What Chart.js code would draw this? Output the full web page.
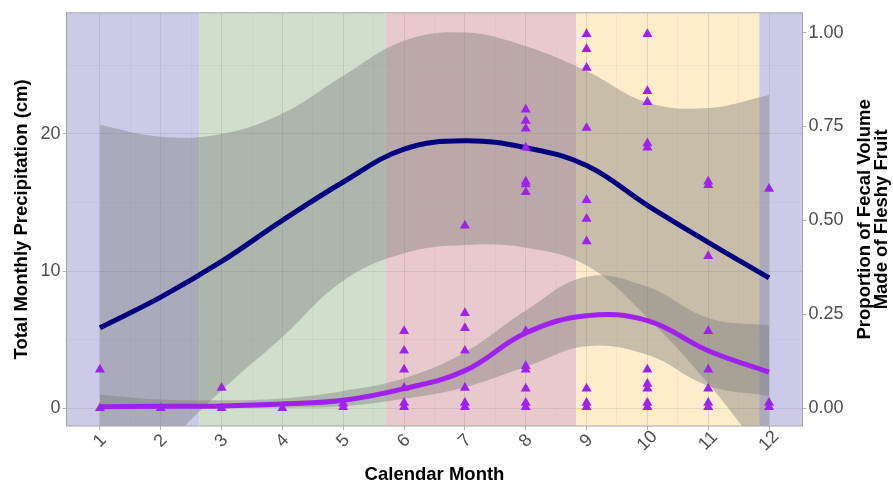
<!DOCTYPE html>
<html>
<head>
<meta charset="utf-8">
<script src="https://cdn.jsdelivr.net/npm/chart.js@4.4.0/dist/chart.umd.min.js"></script>
<style>
  body { margin: 0; background: #fff; }
</style>
</head>
<body>
<canvas id="chart" width="893" height="484"></canvas>
<script>
// months on the x axis
const months = [1, 2, 3, 4, 5, 6, 7, 8, 9, 10, 11, 12];
const xTickLabels = ['1', '2', '3', '4', '5', '6', '7', '8', '9', '10', '11', '12'];

// season boundaries (in months) and the band colours between them
const seasonBreaks = [2.63, 5.7, 8.83, 11.84];
const seasonColors = ['#cbcbe8', '#cfdfcc', '#e8cacc', '#feecca', '#cbcbe8'];

// precipitation smooth (cm) + ribbon
const precipFit = [5.87, 8.1, 10.7, 13.7, 16.5, 18.9, 19.5, 19.0, 17.7, 14.8, 12.1, 9.5];
const precipUpper = [20.65, 19.8, 20.0, 21.5, 24.25, 26.8, 27.4, 26.4, 24.6, 22.3, 21.9, 22.85];
const precipLower = [-8.9, -3.2, 1.3, 5.2, 9.3, 11.3, 11.9, 11.7, 10.4, 6.6, 1.8, -3.9];

// fleshy fruit proportion smooth + ribbon
const fruitFit = [0.004, 0.005, 0.006, 0.011, 0.021, 0.052, 0.10, 0.20, 0.246, 0.233, 0.153, 0.096];
const fruitUpper = [0.036, 0.023, 0.021, 0.026, 0.046, 0.08, 0.149, 0.26, 0.35, 0.323, 0.24, 0.22];
const fruitLower = [-0.001, -0.002, 0.0, 0.001, 0.005, 0.025, 0.056, 0.11, 0.165, 0.142, 0.06, 0.033];

// observed proportions, one list per month
const fruitObs = [
    [0, 0.103],
    [0],
    [0, 0.054],
    [0],
    [0.003, 0.012],
    [0.205, 0.153, 0.103, 0.054, 0.014, 0.003],
    [0.486, 0.253, 0.213, 0.153, 0.054, 0.014, 0.003],
    [0.795, 0.765, 0.744, 0.694, 0.603, 0.596, 0.575, 0.205, 0.112, 0.103, 0.052, 0.014, 0.003],
    [0.996, 0.956, 0.906, 0.746, 0.554, 0.504, 0.444, 0.052, 0.014, 0.003],
    [0.996, 0.844, 0.815, 0.705, 0.694, 0.103, 0.065, 0.052, 0.014, 0.003],
    [0.603, 0.594, 0.405, 0.205, 0.103, 0.052, 0.014, 0.003],
    [0.584, 0.014, 0.003]
];

const leftGrid = [0, 5, 10, 15, 20, 25];
const leftTicks = [0, 10, 20];
const rightTicks = [0, 0.25, 0.5, 0.75, 1];
const rightTickLabels = ['0.00', '0.25', '0.50', '0.75', '1.00'];
const secScale = 27.4; // precipitation units per proportion unit

const FONT = "'Liberation Sans', Arial, sans-serif";
const ribbonFill = 'rgba(120, 120, 120, 0.4)';
const gridMajor = 'rgba(130, 130, 130, 0.22)';
const gridMinor = 'rgba(130, 130, 130, 0.13)';
const tickGrey = '#b3b3b3';

function toPoints(values) {
    return months.map((m, i) => ({ x: m, y: values[i] }));
}

let obsPoints = [];
fruitObs.forEach((vals, i) => {
    vals.forEach(v => obsPoints.push({ x: months[i], y: v }));
});

function bandDataset(values, axis, fill) {
    return {
        data: toPoints(values), yAxisID: axis, fill: fill,
        backgroundColor: ribbonFill, borderWidth: 0, pointRadius: 0,
        tension: 0.4, order: 5
    };
}

const seasonBands = {
    id: 'seasonBands',
    beforeDraw(chart) {
        const { ctx, chartArea, scales: { x } } = chart;
        const edges = [x.min, ...seasonBreaks, x.max];
        ctx.save();
        for (let i = 0; i < seasonColors.length; i++) {
            const x0 = x.getPixelForValue(edges[i]);
            const x1 = x.getPixelForValue(edges[i + 1]);
            ctx.fillStyle = seasonColors[i];
            ctx.fillRect(x0, chartArea.top, x1 - x0, chartArea.bottom - chartArea.top);
        }
        ctx.restore();
    }
};

const decorations = {
    id: 'decorations',
    afterDraw(chart) {
        const { ctx, chartArea, scales: { x } } = chart;
        ctx.save();
        // panel border
        ctx.strokeStyle = '#a6a6a6';
        ctx.lineWidth = 1;
        ctx.strokeRect(chartArea.left, chartArea.top, chartArea.right - chartArea.left, chartArea.bottom - chartArea.top);

        // rotated month labels, centred on their ticks
        ctx.fillStyle = '#4d4d4d';
        ctx.font = '18px ' + FONT;
        ctx.textAlign = 'center';
        ctx.textBaseline = 'middle';
        months.forEach((m, i) => {
            ctx.save();
            ctx.translate(x.getPixelForValue(m), chartArea.bottom + 15);
            ctx.rotate(-Math.PI / 4);
            ctx.fillText(xTickLabels[i], 0, 0);
            ctx.restore();
        });

        // right axis title, reading bottom to top
        ctx.fillStyle = '#000';
        ctx.font = 'bold 18.5px ' + FONT;
        const cy = (chartArea.top + chartArea.bottom) / 2;
        ctx.translate(873.5, cy);
        ctx.rotate(-Math.PI / 2);
        ctx.fillText('Proportion of Fecal Volume', 0, -8.5);
        ctx.fillText('Made of Fleshy Fruit', 0, 8.5);
        ctx.restore();
    }
};

new Chart(document.getElementById('chart'), {
    type: 'line',
    data: {
        datasets: [
            { type: 'scatter', data: obsPoints, yAxisID: 'y2', pointStyle: 'triangle', pointRadius: 5.8,
              pointBorderWidth: 0, backgroundColor: '#a020f0', borderColor: '#a020f0', order: 0 },
            { data: toPoints(fruitFit), yAxisID: 'y2', borderColor: '#a020f0', borderWidth: 5,
              pointRadius: 0, tension: 0.4, fill: false, order: 1 },
            { data: toPoints(precipFit), yAxisID: 'y', borderColor: '#000080', borderWidth: 5,
              pointRadius: 0, tension: 0.4, fill: false, order: 2 },
            bandDataset(precipUpper, 'y', '+1'),
            bandDataset(precipLower, 'y', false),
            bandDataset(fruitUpper, 'y2', '+1'),
            bandDataset(fruitLower, 'y2', false)
        ]
    },
    options: {
        responsive: false,
        animation: false,
        layout: { padding: { top: 10, left: 0, right: 0, bottom: 0 } },
        plugins: { legend: { display: false }, tooltip: { enabled: false } },
        scales: {
            x: {
                type: 'linear', min: 0.45, max: 12.55,
                afterBuildTicks: s => {
                    s.ticks = months.flatMap(m => m < 12 ? [m, m + 0.5] : [m]).map(v => ({ value: v }));
                },
                afterFit: s => { s.height = 58; },
                ticks: { display: false },
                border: { display: false },
                grid: {
                    color: c => Number.isInteger(c.tick.value) ? gridMajor : gridMinor,
                    lineWidth: c => Number.isInteger(c.tick.value) ? 1 : 0.6,
                    tickColor: c => Number.isInteger(c.tick.value) ? tickGrey : 'transparent',
                    tickLength: 4
                },
                title: {
                    display: true, text: 'Calendar Month', color: '#000',
                    font: { family: FONT, size: 18.5, weight: 'bold', lineHeight: 1 },
                    padding: { top: 0, bottom: 0 }
                }
            },
            y: {
                position: 'left', min: -1.3, max: 28.84,
                afterBuildTicks: s => { s.ticks = leftGrid.map(v => ({ value: v })); },
                afterFit: s => { s.width = 66.5; },
                ticks: {
                    callback: v => leftTicks.includes(v) ? String(v) : '',
                    color: '#4d4d4d', font: { family: FONT, size: 18 }, padding: 2
                },
                border: { display: false },
                grid: {
                    color: c => leftTicks.includes(c.tick.value) ? gridMajor : gridMinor,
                    lineWidth: c => leftTicks.includes(c.tick.value) ? 1 : 0.6,
                    tickColor: c => leftTicks.includes(c.tick.value) ? tickGrey : 'transparent',
                    tickLength: 4
                },
                title: {
                    display: true, text: 'Total Monthly Precipitation (cm)', color: '#000',
                    font: { family: FONT, size: 18.5, weight: 'bold' },
                    padding: { top: 11, bottom: 0 }
                }
            },
            y2: {
                position: 'right', min: -1.3 / secScale, max: 28.84 / secScale,
                afterBuildTicks: s => { s.ticks = rightTicks.map(v => ({ value: v })); },
                afterFit: s => { s.width = 90.5; },
                ticks: {
                    callback: (v, i) => rightTickLabels[i],
                    color: '#4d4d4d', font: { family: FONT, size: 18 }, padding: 2
                },
                border: { display: false },
                grid: { drawOnChartArea: false, tickColor: tickGrey, tickLength: 4 }
            }
        }
    },
    plugins: [seasonBands, decorations]
});
</script>
</body>
</html>
